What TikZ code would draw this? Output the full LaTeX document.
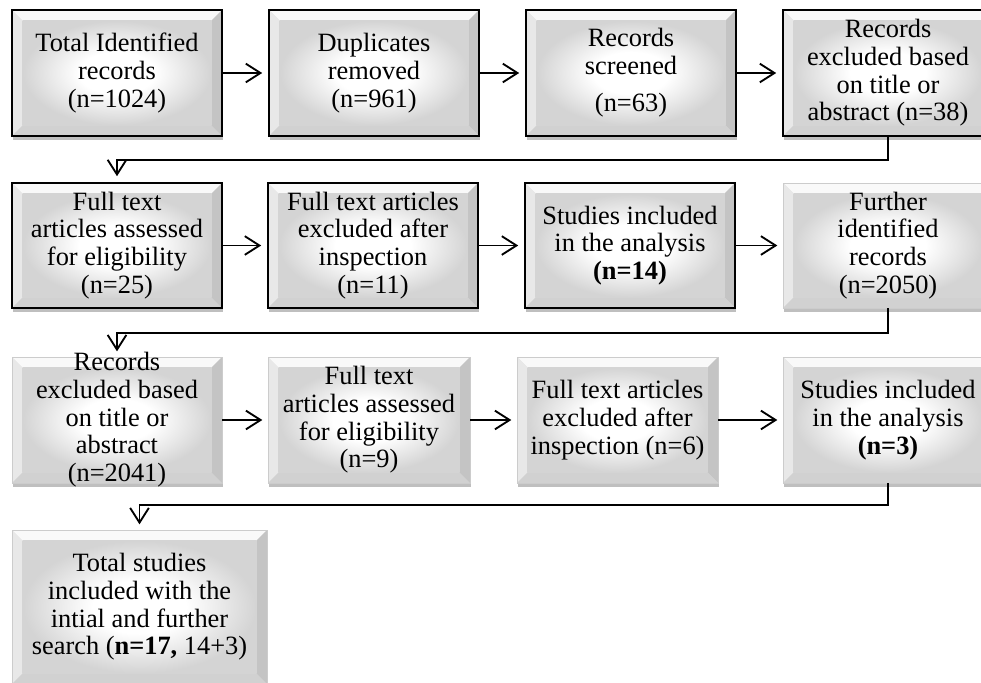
\documentclass[tikz,border=0pt]{standalone}
\usepackage{fontspec}
\setmainfont{Liberation Serif}
\usetikzlibrary{arrows.meta,shadows}
\pgfdeclareradialshading{bevface}{\pgfpoint{0bp}{0bp}}{color(0bp)=(white); color(10bp)=(white); color(25bp)=(gray!34); color(50bp)=(gray!34)}
\begin{document}
\begin{tikzpicture}[x=0.75pt,y=-0.75pt,
  bevel/.style={path picture={
    \path (path picture bounding box.south west) coordinate (pSW)
          (path picture bounding box.north east) coordinate (pNE)
          (path picture bounding box.north west) coordinate (pNW)
          (path picture bounding box.south east) coordinate (pSE);
    \fill[gray!30] (pSW) rectangle (pNE);
    \fill[gray!5] (pNW) -- (pNE) -- ([shift={(-8pt,-8pt)}]pNE) -- ([shift={(8pt,-8pt)}]pNW) -- cycle;
    \fill[gray!18] (pNW) -- ([shift={(8pt,-8pt)}]pNW) -- ([shift={(8pt,8pt)}]pSW) -- (pSW) -- cycle;
    \fill[gray!46] (pNE) -- (pSE) -- ([shift={(-8pt,8pt)}]pSE) -- ([shift={(-8pt,-8pt)}]pNE) -- cycle;
    \fill[gray!36] (pSW) -- (pSE) -- ([shift={(-8pt,8pt)}]pSE) -- ([shift={(8pt,8pt)}]pSW) -- cycle;
    \shade[shading=bevface] ([shift={(8pt,8pt)}]pSW) rectangle ([shift={(-8pt,-8pt)}]pNE);
  }},
  box/.style={rectangle, inner sep=0pt, align=center,
    font=\fontsize{19.8}{20.8}\selectfont,
    minimum width=157.5pt, minimum height=94.5pt,
    fill=gray!25,
    drop shadow={shadow xshift=1pt, shadow yshift=-3pt, opacity=0.25, fill=black},
    bevel},
  thickframe/.style={draw=black, line width=2.2pt},
  softframe/.style={draw=gray!40, line width=0.5pt},
  conn/.style={line width=1.4pt, shorten >=4pt,
    -{Straight Barb[length=11pt,width=14pt]}},
]
\useasboundingbox (0,0) rectangle (981,682);

% Row 1
\node[box, thickframe] (a1) at (117,73) {Total Identified\\records\\(n=1024)};
\node[box, thickframe] (a2) at (374,73) {Duplicates\\removed\\(n=961)};
\node[box, thickframe] (a3) at (631,73) {Records\\screened\\[7pt](n=63)};
\node[box, thickframe] (a4) at (888,73) {Records\\excluded based\\on title or\\abstract (n=38)};

% Row 2
\node[box, thickframe, minimum height=93.75pt] (b1) at (117,245.5) {Full text\\articles assessed\\for eligibility\\(n=25)};
\node[box, thickframe, minimum height=93.75pt] (b2) at (373,245.5) {Full text articles\\excluded after\\inspection\\(n=11)};
\node[box, thickframe, minimum height=93.75pt] (b3) at (630,245.5) {Studies included\\in the analysis\\\textbf{(n=14)}};
\node[box, softframe, minimum height=93.75pt] (b4) at (888,245.5) {Further\\identified\\records\\(n=2050)};

% Row 3
\node[box, softframe] (c1) at (117,420) {\smash{\raisebox{-5pt}{\parbox[c]{150pt}{\centering Records\\excluded based\\on title or\\abstract\\(n=2041)}}}};
\node[box, softframe, minimum width=151.5pt] (c2) at (369,420) {Full text\\articles assessed\\for eligibility\\(n=9)};
\node[box, softframe, minimum width=150.75pt] (c3) at (617.5,420) {Full text articles\\excluded after\\inspection (n=6)};
\node[box, softframe] (c4) at (888,420) {Studies included\\in the analysis\\\textbf{(n=3)}};

% Row 4
\node[box, softframe, minimum width=191.25pt, minimum height=115.5pt] (d1) at (139.5,607) {Total studies\\included with the\\intial and further\\search (\textbf{n=17,} 14+3)};

% Connectors
\draw[conn] (a1) -- (a2);
\draw[conn] (a2) -- (a3);
\draw[conn] (a3) -- (a4);
\coordinate (w1) at (117,160);
\draw[conn] (a4.south) |- (w1) -- (b1.north);

\draw[conn] (b1) -- (b2);
\draw[conn] (b2) -- (b3);
\draw[conn] (b3) -- (b4);
\coordinate (w2) at (117,333);
\draw[conn] (b4.south) |- (w2) -- (c1.north);

\draw[conn] (c1.east |- c2) -- (c2);
\draw[conn] (c2) -- (c3);
\draw[conn] (c3) -- (c4);
\coordinate (w3) at (139.5,505);
\draw[conn] (c4.south) |- (w3) -- (d1.north);
\end{tikzpicture}
\end{document}
